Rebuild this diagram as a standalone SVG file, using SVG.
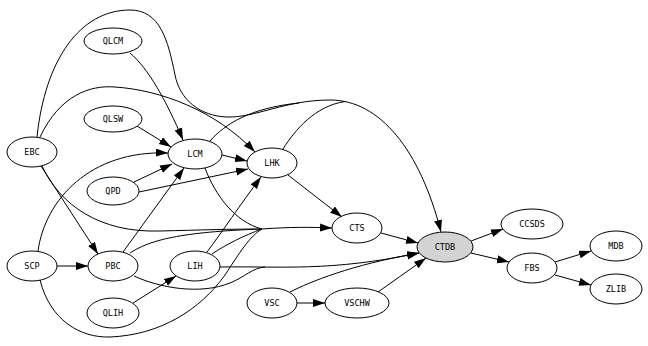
<svg xmlns="http://www.w3.org/2000/svg" width="648" height="346" viewBox="0 0 648 346">
<defs>
<marker id="ah" markerUnits="userSpaceOnUse" markerWidth="13" markerHeight="9" refX="12" refY="4" orient="auto">
<path d="M0,0 L12,4 L0,8 z" fill="#000"/>
</marker>
<style>
.n ellipse{fill:#fff;stroke:#000;stroke-width:1}
.n text{font-family:"DejaVu Sans Mono","Liberation Mono",monospace;font-size:8.5px;text-anchor:middle;fill:#000}
.e path{fill:none;stroke:#000;stroke-width:1}
.e .a{marker-end:url(#ah)}
</style>
</defs>
<rect width="648" height="346" fill="#fff"/>
<g id="edges" class="e">
<path class="a" d="M130,53 C148,68 166,100 183,140"/>
<path class="a" d="M137,126 L171,147"/>
<path class="a" d="M38,251 C45,200 90,150 168,153"/>
<path class="a" d="M134,182 L172,164"/>
<path class="a" d="M123,252 L184,168"/>
<path class="a" d="M222,155 L247,161"/>
<path class="a" d="M139,192 L248,169"/>
<path class="a" d="M40,137 C60,95 90,85 115,87 C160,90 215,110 255,152"/>
<path class="a" d="M207,252 C222,232 240,205 261,177"/>
<path class="a" d="M37,137 C45,60 80,10 130,10 C160,10 168,40 175,75 C180,100 200,116 227,117 C255,118 285,100 330,100 C380,100 420,150 441,232"/>
<path d="M210,141 C225,124 250,108 299,103"/>
<path d="M283,149 C295,130 315,106 345,101.5"/>
<path class="a" d="M41,166 L98,254"/>
<path d="M42,166 C60,205 100,233 160,231 C200,230 230,229 262,229"/>
<path d="M40,280 C50,320 80,338 110,337 C160,335 200,310 225,275 C240,252 250,236 262,229"/>
<path d="M130,253 C150,240 180,232 262,229"/>
<path d="M212,254 C225,245 245,235 262,229"/>
<path d="M205,168 C215,195 235,222 262,229"/>
<path class="a" d="M262,229 C290,227 310,227 332,228"/>
<path class="a" d="M288,175 L342,217"/>
<path class="a" d="M381,233 L418,243"/>
<path class="a" d="M220,267 C280,266 330,272 419,253"/>
<path d="M134,276 C160,288 200,295 230,283 C245,277 252,268 265,267"/>
<path class="a" d="M290,292 C310,282 350,265 419,253"/>
<path class="a" d="M378,292 L426,258"/>
<path class="a" d="M57,266 L88,266"/>
<path class="a" d="M133,303 L176,276"/>
<path class="a" d="M297,303 L325,303"/>
<path class="a" d="M471,241 L503,229"/>
<path class="a" d="M471,253 L509,262"/>
<path class="a" d="M555,262 L591,251"/>
<path class="a" d="M555,275 L591,285"/>
</g>
<g id="QLCM" class="n"><ellipse cx="113" cy="41" rx="29" ry="13"/><text x="113" y="44">QLCM</text></g>
<g id="QLSW" class="n"><ellipse cx="113" cy="119" rx="29" ry="13"/><text x="113" y="122">QLSW</text></g>
<g id="EBC" class="n"><ellipse cx="32" cy="152" rx="25" ry="15"/><text x="32" y="155">EBC</text></g>
<g id="LCM" class="n"><ellipse cx="195" cy="154" rx="27" ry="15"/><text x="195" y="157">LCM</text></g>
<g id="LHK" class="n"><ellipse cx="272" cy="163" rx="25" ry="15"/><text x="272" y="166">LHK</text></g>
<g id="QPD" class="n"><ellipse cx="113" cy="191" rx="26" ry="14"/><text x="113" y="194">QPD</text></g>
<g id="CTS" class="n"><ellipse cx="357" cy="228" rx="25" ry="15"/><text x="357" y="231">CTS</text></g>
<g id="SCP" class="n"><ellipse cx="32" cy="266" rx="25" ry="15"/><text x="32" y="269">SCP</text></g>
<g id="PBC" class="n"><ellipse cx="113" cy="266" rx="25" ry="15"/><text x="113" y="269">PBC</text></g>
<g id="LIH" class="n"><ellipse cx="195" cy="266" rx="25" ry="15"/><text x="195" y="269">LIH</text></g>
<g id="QLIH" class="n"><ellipse cx="113" cy="313" rx="26" ry="15"/><text x="113" y="316">QLIH</text></g>
<g id="CTDB" class="n"><ellipse cx="445" cy="247" rx="28" ry="15" style="fill:#d3d3d3"/><text x="445" y="250">CTDB</text></g>
<g id="VSC" class="n"><ellipse cx="272" cy="303" rx="25" ry="15"/><text x="272" y="306">VSC</text></g>
<g id="VSCHW" class="n"><ellipse cx="357" cy="303" rx="32" ry="15"/><text x="357" y="306">VSCHW</text></g>
<g id="CCSDS" class="n"><ellipse cx="532" cy="224" rx="31" ry="15"/><text x="532" y="227">CCSDS</text></g>
<g id="FBS" class="n"><ellipse cx="532" cy="268" rx="25" ry="15"/><text x="532" y="271">FBS</text></g>
<g id="MDB" class="n"><ellipse cx="616" cy="246" rx="26" ry="15"/><text x="616" y="249">MDB</text></g>
<g id="ZLIB" class="n"><ellipse cx="616" cy="289" rx="26" ry="15"/><text x="616" y="292">ZLIB</text></g>
</svg>
